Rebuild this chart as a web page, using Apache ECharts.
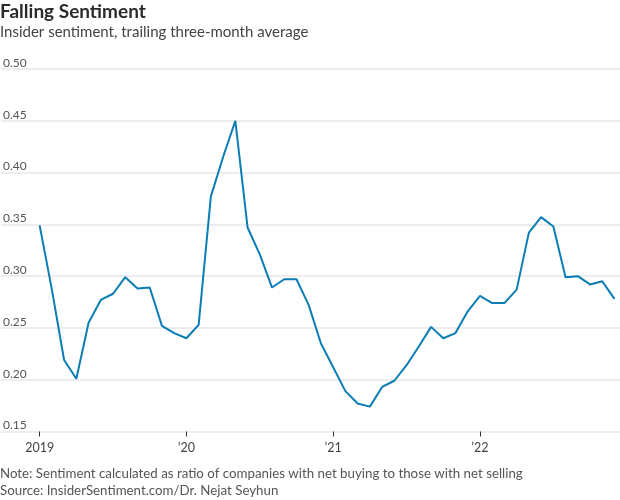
<!DOCTYPE html>
<html>
<head>
<meta charset="utf-8">
<script src="https://cdn.jsdelivr.net/npm/echarts@6/dist/echarts.min.js"></script>
<style>
html,body{margin:0;padding:0;background:#fff;}
#chart{width:620px;height:500px;}
</style>
</head>
<body>
<div id="chart"></div>
<script>
// Monthly values, Jan 2019 .. Dec 2022
var startYear = 2019;
var sentiment = [
  0.349, 0.287, 0.219, 0.201, 0.255, 0.277, 0.283, 0.299, 0.288, 0.289, 0.252, 0.245,
  0.240, 0.253, 0.377, 0.415, 0.450, 0.347, 0.321, 0.289, 0.297, 0.297, 0.272, 0.235,
  0.212, 0.189, 0.177, 0.174, 0.193, 0.199, 0.214, 0.232, 0.251, 0.240, 0.245, 0.266,
  0.281, 0.274, 0.274, 0.287, 0.342, 0.357, 0.348, 0.299, 0.300, 0.292, 0.295, 0.278
];
var yearTickIdx = [0, 12, 24, 36];
var yearTickLabels = ['2019', '\u201920', '\u201921', '\u201922'];
var yTicks = { min: 0.15, max: 0.50, step: 0.05 };

var FONT = 'Lato';
var chart = echarts.init(document.getElementById('chart'), null, {renderer: 'canvas'});
var seriesData = sentiment.map(function (v, i) { return [i, v]; });

chart.setOption({
  animation: false,
  textStyle: { fontFamily: FONT },
  grid: { left: 0, right: 0, top: 69, bottom: 68.5, containLabel: false },
  xAxis: {
    type: 'value',
    min: -3.16,
    max: 47.45,
    axisLine: { show: false },
    splitLine: { show: false },
    axisTick: {
      show: true, length: 5, customValues: yearTickIdx,
      lineStyle: { color: '#333', width: 1 }
    },
    axisLabel: {
      customValues: yearTickIdx,
      fontFamily: FONT, fontSize: 12.5, color: '#444', margin: 10,
      formatter: function (v) {
        var k = yearTickIdx.indexOf(Math.round(v));
        return k >= 0 ? yearTickLabels[k] : '';
      }
    }
  },
  yAxis: {
    type: 'value',
    min: yTicks.min,
    max: yTicks.max,
    interval: yTicks.step,
    axisLine: { show: false },
    axisTick: { show: false },
    splitLine: { show: true, lineStyle: { color: '#ededed', width: 2 } },
    axisLabel: {
      inside: true, margin: 2, fontFamily: FONT, fontSize: 12, color: '#555',
      verticalAlign: 'bottom', padding: [0, 0, 0, 0],
      formatter: function (v) { return v.toFixed(2); }
    }
  },
  series: [{
    type: 'line',
    data: seriesData,
    showSymbol: false,
    lineStyle: { color: '#0a7db5', width: 2 },
    itemStyle: { color: '#0a7db5' }
  }],
  graphic: [
    { type: 'text', left: 0, top: 2.5, style: { text: 'Falling Sentiment', fontFamily: FONT, fontWeight: 'bold', fontSize: 19, fill: '#2b2b2b' } },
    { type: 'text', left: 0, top: 24.4, style: { text: 'Insider sentiment, trailing three-month average', fontFamily: FONT, fontSize: 15, fill: '#444' } },
    { type: 'text', left: 0, top: 467.4, style: { text: 'Note: Sentiment calculated as ratio of companies with net buying to those with net selling', fontFamily: FONT, fontSize: 13.3, fill: '#555' } },
    { type: 'text', left: 0, top: 484.3, style: { text: 'Source: InsiderSentiment.com/Dr. Nejat Seyhun', fontFamily: FONT, fontSize: 13.3, fill: '#555' } }
  ]
});
</script>
</body>
</html>
